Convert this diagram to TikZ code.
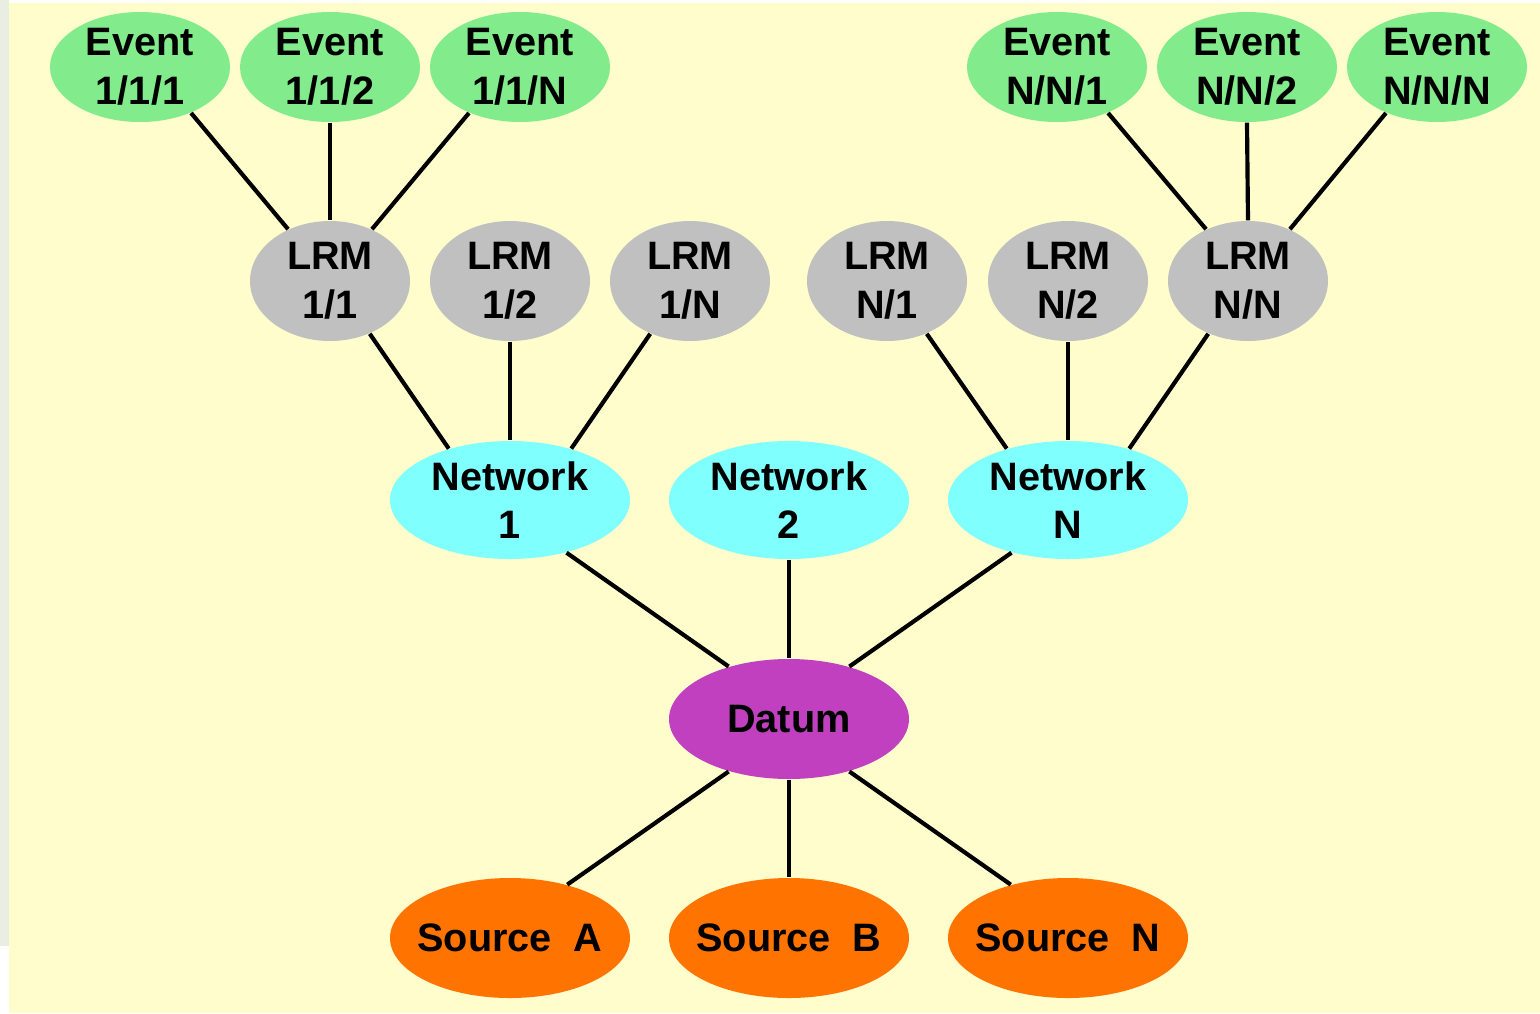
\documentclass[tikz,border=0pt]{standalone}
\usepackage{fontspec}
\setmainfont{Liberation Sans}
\usepackage{xcolor}
\usepackage{tikz}
\usetikzlibrary{positioning,shapes.geometric}
\definecolor{bgyellow}{RGB}{255,253,204}
\definecolor{bgstrip}{RGB}{233,238,227}
\definecolor{eventgreen}{RGB}{130,236,140}
\definecolor{lrmgray}{RGB}{192,192,192}
\definecolor{netcyan}{RGB}{128,255,255}
\definecolor{datumpurple}{RGB}{192,64,192}
\definecolor{sourceorange}{RGB}{255,115,0}
\tikzset{
blob/.style={ellipse, draw=none, inner sep=-3pt, align=center, font=\fontsize{11.9}{14.6}\selectfont\bfseries},
event/.style={blob, fill=eventgreen, minimum width=54pt, minimum height=33pt},
lrm/.style={blob, fill=lrmgray, minimum width=48pt, minimum height=36pt},
network/.style={blob, fill=netcyan, minimum width=72pt, minimum height=35.4pt},
datum/.style={blob, fill=datumpurple, minimum width=72pt, minimum height=36pt},
source/.style={blob, fill=sourceorange, minimum width=72pt, minimum height=36pt},
link/.style={line width=1.25pt}
}

\begin{document}
\begin{tikzpicture}[x=0.3pt, y=-0.3pt]
\useasboundingbox (0,0) rectangle (1540,1013);
\fill[white] (0,0) rectangle (1540,1013);
\fill[bgstrip] (0,0) rectangle (9,946);
\fill[bgyellow] (9,3) rectangle (1540,1013);
% events
\node[event] (e111) at (140,67) {Event\\1/1/1};
\node[event] (e112) at (330,67) {Event\\1/1/2};
\node[event] (e11N) at (520,67) {Event\\1/1/N};
\node[event] (eNN1) at (1057,67) {Event\\N/N/1};
\node[event] (eNN2) at (1247,67) {Event\\N/N/2};
\node[event] (eNNN) at (1437,67) {Event\\N/N/N};
% LRMs
\node[lrm] (l11) at (330,281) {LRM\\1/1};
\node[lrm] (l12) at (510,281) {LRM\\1/2};
\node[lrm] (l1N) at (690,281) {LRM\\1/N};
\node[lrm] (lN1) at (887,281) {LRM\\N/1};
\node[lrm] (lN2) at (1068,281) {LRM\\N/2};
\node[lrm] (lNN) at (1248,281) {LRM\\N/N};
% networks
\node[network] (net1) at (510,500) {Network\\1};
\node[network] (net2) at (789,500) {Network\\2};
\node[network] (netN) at (1068,500) {Network\\N};
% datum and sources
\node[datum] (datum) at (789,719) {Datum};
\node[source] (srcA) at (510,938) {Source\ \ A};
\node[source] (srcB) at (789,938) {Source\ \ B};
\node[source] (srcN) at (1068,938) {Source\ \ N};

\draw[link] (e111.318) -- (l11.129);
\draw[link] (e112.south) -- (l11.north);
\draw[link] (e11N.222) -- (l11.51);
\draw[link] (eNN1.318) -- (lNN.129);
\draw[link] (eNN2.south) -- (lNN.north);
\draw[link] (eNNN.222) -- (lNN.51);

\draw[link] (l11.307) -- (net1.140);
\draw[link] (l12.south) -- (net1.north);
\draw[link] (l1N.233) -- (net1.40);
\draw[link] (lN1.307) -- (netN.140);
\draw[link] (lN2.south) -- (netN.north);
\draw[link] (lNN.233) -- (netN.40);

\draw[link] (net1.317) -- (datum.139);
\draw[link] (net2.south) -- (datum.north);
\draw[link] (netN.223) -- (datum.41);
\draw[link] (datum.221) -- (srcA.43);
\draw[link] (datum.south) -- (srcB.north);
\draw[link] (datum.319) -- (srcN.137);
\end{tikzpicture}
\end{document}
